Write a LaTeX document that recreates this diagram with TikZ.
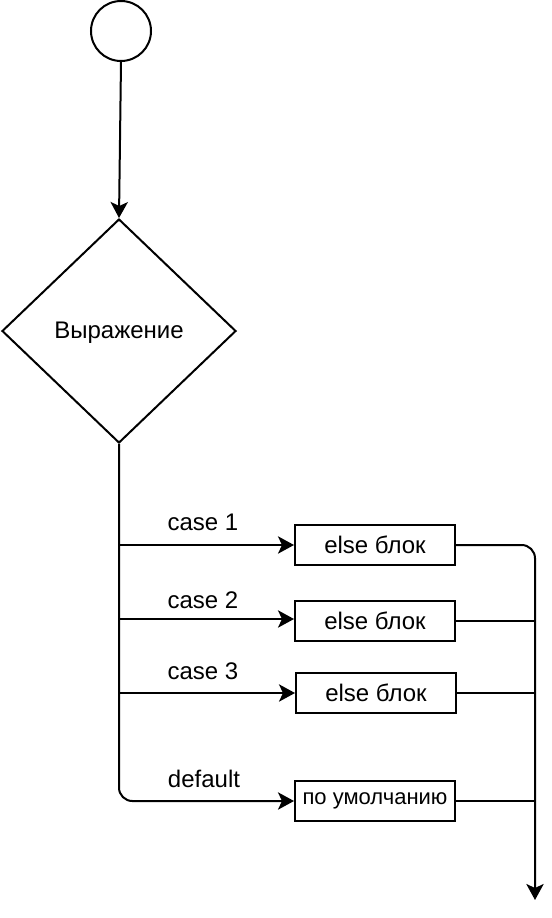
\documentclass[tikz,border=0pt]{standalone}
\usepackage{fontspec}
\setmainfont{Liberation Sans}
\usetikzlibrary{arrows.meta,shapes.geometric}
\begin{document}
\begin{tikzpicture}[x=0.75pt,y=-0.75pt,
  line width=1.5pt,
  every node/.style={font=\fontsize{18}{21}\selectfont},
  arr/.style={-{Stealth[length=12pt,width=13pt,inset=3pt]}},
  blk/.style={draw,rectangle,minimum width=120pt,minimum height=30pt,inner sep=0pt},
  lbl/.style={inner sep=0pt}]
\useasboundingbox (0,0) rectangle (552,918);
\node[draw,circle,minimum size=45pt,inner sep=0pt] (start) at (121,31) {};
\node[draw,diamond,minimum width=175.5pt,minimum height=168pt,inner sep=0pt] (expr) at (119,331) {};
\node[inner sep=0pt] (exprtext) at (119,333) {Выражение};
\node[blk] (b1) at (375,545) {else блок};
\node[blk] (b2) at (375,621) {else блок};
\node[blk] (b3) at (376,693) {else блок};
\node[blk,font=\fontsize{16.5}{19}\selectfont] (b4) at (375,801) {по умолчанию};
\coordinate (j1) at (119,545);
\coordinate (j2) at (119,619);
\coordinate (j3) at (119,693);
\coordinate (r2) at (535,621);
\coordinate (r3) at (535,693);
\coordinate (r4) at (535,801);
\coordinate (endp) at (535,900);
\node[lbl] (l1) at (203,522) {case 1};
\node[lbl] (l2) at (203,600) {case 2};
\node[lbl] (l3) at (203,671) {case 3};
\node[lbl] (l4) at (204,779) {default};
\draw[arr] (start.south) -- (expr.north);
\draw[arr,rounded corners=10pt] (expr.south) |- (b4.west);
\draw[arr] (j1) -- (b1.west);
\draw[arr] (j2) -- (j2 -| b2.west);
\draw[arr] (j3) -- (b3.west);
\draw[arr,rounded corners=10pt] (b1.east) -| (endp);
\draw (b2.east) -- (r2);
\draw (b3.east) -- (r3);
\draw (b4.east) -- (r4);
\end{tikzpicture}
\end{document}
